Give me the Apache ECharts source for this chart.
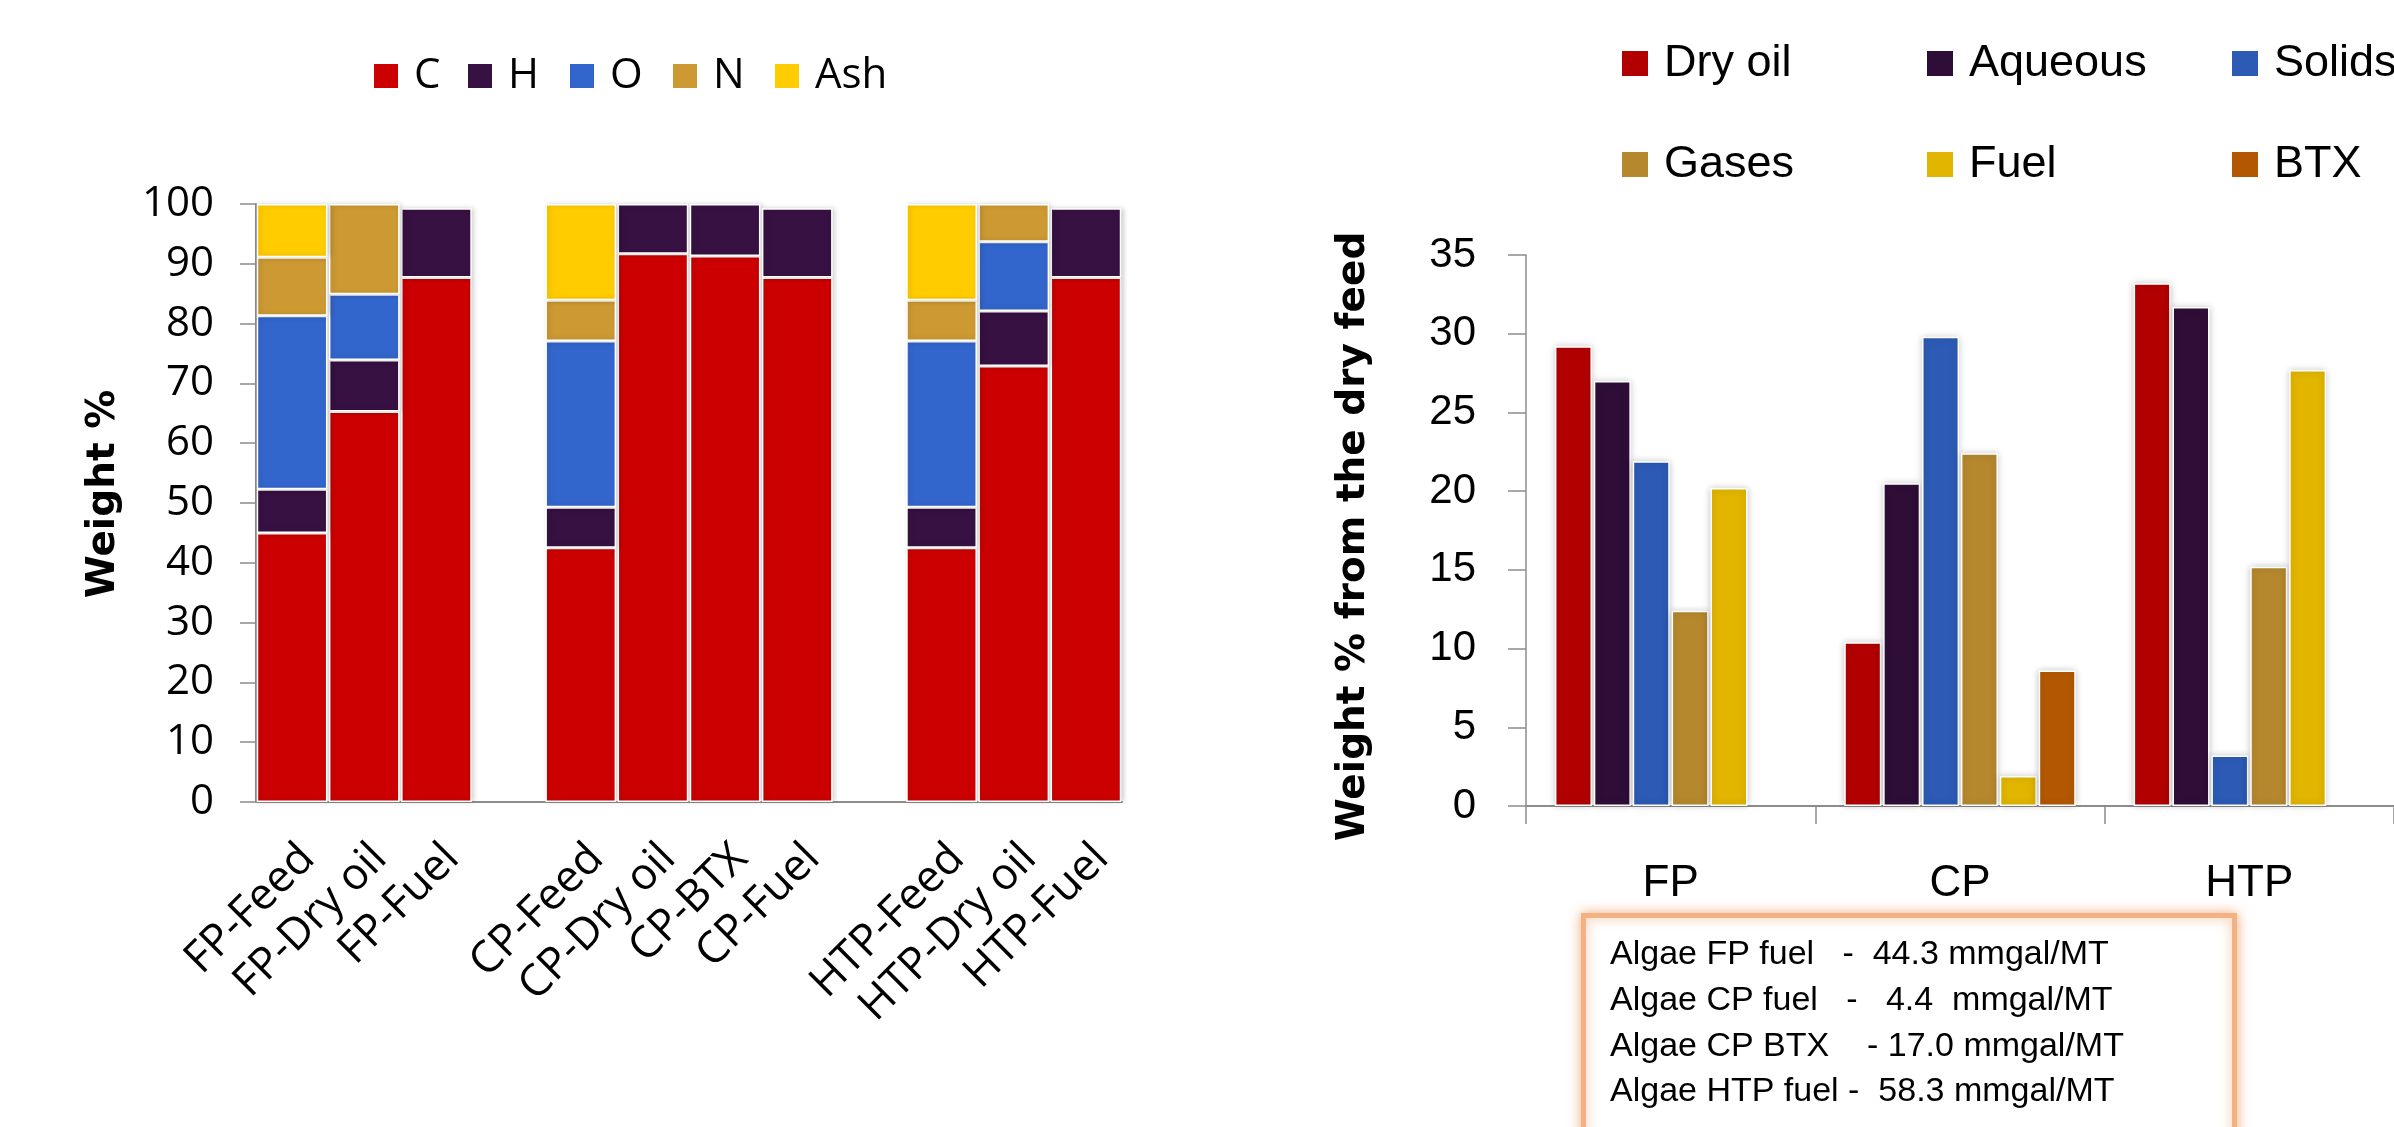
<!DOCTYPE html>
<html>
<head>
<meta charset="utf-8">
<script src="https://cdn.jsdelivr.net/npm/echarts@6/dist/echarts.min.js"></script>
<style>
  html, body { margin: 0; padding: 0; background: #ffffff; overflow: hidden; }
  #main { width: 2394px; height: 1127px; }
</style>
</head>
<body>
<div id="main"></div>
<script>
// ---- Elemental composition (wt %), stacked per sample ----
const compCategories = ['FP-Feed', 'FP-Dry oil', 'FP-Fuel', ' ', 'CP-Feed', 'CP-Dry oil', 'CP-BTX', 'CP-Fuel', '  ', 'HTP-Feed', 'HTP-Dry oil', 'HTP-Fuel'];
const compC   = [45.0, 65.3, 87.7, null, 42.5, 91.7, 91.3, 87.7, null, 42.5, 72.9, 87.7];
const compH   = [7.3, 8.6, 11.6, null, 6.8, 8.3, 8.7, 11.6, null, 6.8, 9.2, 11.6];
const compO   = [29.0, 11.0, null, null, 27.8, null, null, null, null, 27.8, 11.6, null];
const compN   = [9.8, 15.1, null, null, 6.8, null, null, null, null, 6.8, 6.3, null];
const compAsh = [8.9, null, null, null, 16.1, null, null, null, null, 16.1, null, null];
const compTicks = [0, 100, 10];

// ---- Product yields (wt % of dry feed) per process ----
const processes = ['FP', 'CP', 'HTP'];
const yDryOil  = [29.2, 10.4, 33.2];
const yAqueous = [27.0, 20.5, 31.7];
const ySolids  = [21.9, 29.8, 3.2];
const yGases   = [12.4, 22.4, 15.2];
const yFuel    = [20.2, 1.9, 27.7];
const yBTX     = [null, 8.6, null];
const yieldTicks = [0, 35, 5];

// ---- Fuel yield notes ----
const fuelNotes = [
  'Algae FP fuel   -  44.3 mmgal/MT',
  'Algae CP fuel   -   4.4  mmgal/MT',
  'Algae CP BTX    - 17.0 mmgal/MT',
  'Algae HTP fuel -  58.3 mmgal/MT'
];

const LEFT_FONT = '"Open Sans", "Noto Sans", sans-serif';
const RIGHT_FONT = '"Liberation Sans", Arial, sans-serif';
const TITLE_FONT = '"DejaVu Sans", Verdana, sans-serif';
const AXIS_GRAY = '#8c8c8c';

const compColors = { C: '#CC0000', H: '#371142', O: '#3366CC', N: '#CC9933', Ash: '#FFCC00' };
const yieldColors = { 'Dry oil': '#B20000', 'Aqueous': '#2E0E37', 'Solids': '#2C5AB4', 'Gases': '#B5882E', 'Fuel': '#E1B500', 'BTX': '#B35800' };

function compSeries(name, data) {
  return {
    name, type: 'bar', stack: 'comp', xAxisIndex: 0, yAxisIndex: 0,
    data, barCategoryGap: '2%',
    itemStyle: {
      color: compColors[name], borderColor: '#ffffff', borderWidth: 1.5,
      shadowBlur: 5, shadowColor: 'rgba(0,0,0,0.18)', shadowOffsetX: 2
    },
    emphasis: { disabled: true }
  };
}
function yieldSeries(name, data) {
  return {
    name, type: 'bar', xAxisIndex: 1, yAxisIndex: 1,
    data, barCategoryGap: '20%', barGap: '5%',
    itemStyle: {
      color: yieldColors[name], borderColor: '#ffffff', borderWidth: 1.5,
      shadowBlur: 7, shadowColor: 'rgba(0,0,0,0.22)'
    },
    emphasis: { disabled: true }
  };
}
function legendItem(name, left, top, font, size, w, h) {
  return {
    data: [name], left, top, icon: 'rect', itemWidth: w, itemHeight: h,
    selectedMode: false,
    textStyle: { fontFamily: font, fontSize: size, color: '#000', lineHeight: 44, padding: [0, 0, 0, 10] }
  };
}

const compLegendX = [367, 461, 563, 666, 768];
const yieldLegendX = [1615, 1920, 2225];

const option = {
  backgroundColor: '#ffffff',
  animation: false,
  grid: [
    { left: 256, top: 204, width: 866, height: 598 },
    { left: 1526, top: 255, width: 880, height: 551 }
  ],
  legend: [
    legendItem('C', compLegendX[0], 49, LEFT_FONT, 42, 26, 26),
    legendItem('H', compLegendX[1], 49, LEFT_FONT, 42, 26, 26),
    legendItem('O', compLegendX[2], 49, LEFT_FONT, 42, 26, 26),
    legendItem('N', compLegendX[3], 49, LEFT_FONT, 42, 26, 26),
    legendItem('Ash', compLegendX[4], 49, LEFT_FONT, 42, 26, 26),
    legendItem('Dry oil', yieldLegendX[0], 36, RIGHT_FONT, 45, 28, 27),
    legendItem('Aqueous', yieldLegendX[1], 36, RIGHT_FONT, 45, 28, 27),
    legendItem('Solids', yieldLegendX[2], 36, RIGHT_FONT, 45, 28, 27),
    legendItem('Gases', yieldLegendX[0], 137, RIGHT_FONT, 45, 28, 27),
    legendItem('Fuel', yieldLegendX[1], 137, RIGHT_FONT, 45, 28, 27),
    legendItem('BTX', yieldLegendX[2], 137, RIGHT_FONT, 45, 28, 27)
  ],
  xAxis: [
    {
      type: 'category', gridIndex: 0, data: compCategories,
      axisLine: { lineStyle: { color: AXIS_GRAY, width: 2 } },
      axisTick: { show: false },
      axisLabel: {
        interval: 0, rotate: 45, align: 'right', verticalAlign: 'top', margin: 34,
        fontFamily: LEFT_FONT, fontSize: 44, color: '#000'
      }
    },
    {
      type: 'category', gridIndex: 1, data: processes,
      axisLine: { lineStyle: { color: AXIS_GRAY, width: 2 } },
      axisTick: { show: true, length: 18, lineStyle: { color: AXIS_GRAY, width: 1.5 } },
      axisLabel: { interval: 0, margin: 56, fontFamily: RIGHT_FONT, fontSize: 44, color: '#000' }
    }
  ],
  yAxis: [
    {
      type: 'value', gridIndex: 0, min: compTicks[0], max: compTicks[1], interval: compTicks[2],
      name: 'Weight %', nameLocation: 'middle', nameGap: 133,
      nameTextStyle: { fontFamily: TITLE_FONT, fontWeight: 'bold', fontSize: 39, color: '#000', padding: [0, 0, 0, 18] },
      axisLine: { show: true, lineStyle: { color: AXIS_GRAY, width: 2 } },
      axisTick: { show: true, length: 16, lineStyle: { color: AXIS_GRAY, width: 1.5 } },
      splitLine: { show: false },
      axisLabel: { margin: 42, fontFamily: LEFT_FONT, fontSize: 42, color: '#000' }
    },
    {
      type: 'value', gridIndex: 1, min: yieldTicks[0], max: yieldTicks[1], interval: yieldTicks[2],
      name: 'Weight % from the dry feed', nameLocation: 'middle', nameGap: 153,
      nameTextStyle: { fontFamily: TITLE_FONT, fontWeight: 'bold', fontSize: 39, color: '#000', padding: [0, 12, 0, 0] },
      axisLine: { show: true, lineStyle: { color: AXIS_GRAY, width: 1.5 } },
      axisTick: { show: true, length: 18, lineStyle: { color: AXIS_GRAY, width: 1.5 } },
      splitLine: { show: false },
      axisLabel: { margin: 50, fontFamily: RIGHT_FONT, fontSize: 42, color: '#000' }
    }
  ],
  series: [
    compSeries('C', compC),
    compSeries('H', compH),
    compSeries('O', compO),
    compSeries('N', compN),
    compSeries('Ash', compAsh),
    yieldSeries('Dry oil', yDryOil),
    yieldSeries('Aqueous', yAqueous),
    yieldSeries('Solids', ySolids),
    yieldSeries('Gases', yGases),
    yieldSeries('Fuel', yFuel),
    yieldSeries('BTX', yBTX)
  ],
  graphic: [
    {
      type: 'rect', left: 1581, top: 913, z: 10,
      shape: { width: 651, height: 260 },
      style: { fill: '#ffffff', stroke: '#F4B183', lineWidth: 5, shadowBlur: 12, shadowColor: 'rgba(237,125,49,0.55)' }
    }
  ].concat(fuelNotes.map((line, i) => ({
    type: 'text', x: 1610, y: 955 + i * 45.7, z: 11,
    style: { text: line, font: '34px ' + RIGHT_FONT, fill: '#000', verticalAlign: 'middle' }
  })))
};

const chart = echarts.init(document.getElementById('main'), null, { renderer: 'canvas', width: 2394, height: 1127 });
chart.setOption(option);
</script>
</body>
</html>
